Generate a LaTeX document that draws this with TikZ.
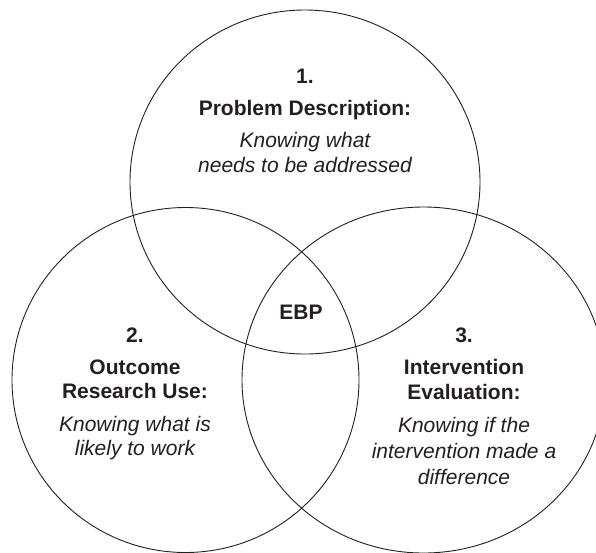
\documentclass[tikz,border=0pt]{standalone}
\usepackage{fontspec}
\setmainfont{Liberation Sans}
\definecolor{ink}{HTML}{231F20}
\begin{document}
\begin{tikzpicture}[x=1pt,y=-1pt,
  ring/.style={draw=ink,line width=0.9pt},
  head/.style={anchor=base,inner sep=0pt,text=ink,font=\bfseries\fontsize{21}{25}\selectfont},
  desc/.style={anchor=base,inner sep=0pt,text=ink,font=\itshape\fontsize{21}{25}\selectfont}]
\useasboundingbox (0,0) rectangle (596,552);
\begin{scope}
\clip (0,0) rectangle (596,552);
\draw[ring] (305,182) ellipse [x radius=175pt, y radius=172pt];
\draw[ring] (185.5,380) ellipse [x radius=173.5pt, y radius=172.5pt];
\draw[ring] (423.6,380) ellipse [x radius=181.6pt, y radius=173pt];
\end{scope}
% top
\node[head] (n1) at (305,83) {1.};
\node[head] (t1) at (305,115) {Problem Description:};
\node[desc] (d1a) at (305,147) {Knowing what};
\node[desc] (d1b) at (305,172) {needs to be addressed};
% left
\node[head] (n2) at (135,342) {2.};
\node[head] (t2a) at (135,374) {Outcome};
\node[head] (t2b) at (135,398.5) {Research Use:};
\node[desc] (d2a) at (135,431) {Knowing what is};
\node[desc] (d2b) at (135,455) {likely to work};
% right
\node[head] (n3) at (464,342) {3.};
\node[head] (t3a) at (464,374) {Intervention};
\node[head] (t3b) at (464,399) {Evaluation:};
\node[desc] (d3a) at (464,432) {Knowing if the};
\node[desc] (d3b) at (464,458) {intervention made a};
\node[desc] (d3c) at (464,484) {difference};
% centre
\node[head] (ebp) at (301,319) {EBP};
\end{tikzpicture}
\end{document}
